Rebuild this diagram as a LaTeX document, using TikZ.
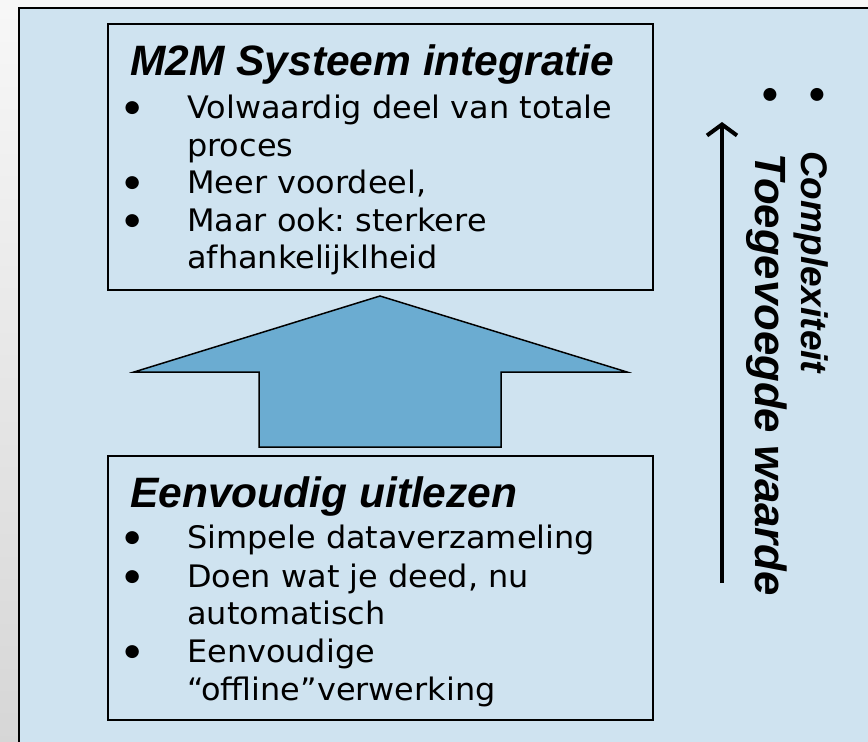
\documentclass[tikz,border=0pt]{standalone}
\usepackage{fontspec}
\setmainfont{DejaVu Sans}
\newfontfamily\bodyfont[FakeStretch=1.03]{DejaVu Sans}
\newfontfamily\arialfont{Liberation Sans}
\usetikzlibrary{arrows.meta}
\definecolor{panelblue}{RGB}{207,227,240}
\definecolor{arrowblue}{RGB}{107,172,209}
\frenchspacing
\newcommand{\bulitem}{\makebox[40pt][c]{\raisebox{6pt}{\fontsize{17}{17}\selectfont ●}}\hspace{35pt}}
\begin{document}
\begin{tikzpicture}[x=1pt,y=-1pt,
  box/.style={draw=black,line width=1.5pt,inner sep=0pt,anchor=north west},
  boxtitle/.style={anchor=base west,inner sep=0pt,font=\arialfont\bfseries\itshape\fontsize{42.5}{42.5}\selectfont},
  item/.style={anchor=base west,inner sep=0pt,font=\bodyfont\fontsize{31}{31}\selectfont},
  rbul/.style={anchor=center,inner sep=0pt,rotate=-90,font=\fontsize{17}{17}\selectfont},
  side/.style={anchor=base west,inner sep=0pt,rotate=-90,font=\arialfont\bfseries\itshape\fontsize{#1}{#1}\selectfont}]
\useasboundingbox (0,0) rectangle (868,742);
\clip (0,0) rectangle (868,742);
% background and panel
\shade[top color=black!3,bottom color=black!16] (0,0) rectangle (868,742);
\draw[line width=2pt,fill=panelblue] (19,8) rectangle (890,770);
% boxes
\node[box,minimum width=545pt,minimum height=266pt] (topbox) at (107,23) {};
\node[box,minimum width=545pt,minimum height=264pt] (botbox) at (107,455) {};
% big block arrow
\draw[line width=1.5pt,fill=arrowblue,line join=miter]
  (380,296) -- (627,372) -- (501,372) -- (501,447) -- (259,447) -- (259,372) -- (134,372) -- cycle;
% top box text
\node[boxtitle] (t1) at (130,75) {M2M Systeem integratie};
\node[item] (i11) at (112,118) {\bulitem Volwaardig deel van totale};
\node[item] (i12) at (187,156) {proces};
\node[item] (i13) at (112,193) {\bulitem Meer voordeel,};
\node[item] (i14) at (112,231) {\bulitem Maar ook: sterkere};
\node[item] (i15) at (187,268) {afhankelijklheid};
% bottom box text
\node[boxtitle] (t2) at (130,507) {Eenvoudig uitlezen};
\node[item] (i21) at (112,548) {\bulitem Simpele dataverzameling};
\node[item] (i22) at (112,587) {\bulitem Doen wat je deed, nu};
\node[item] (i23) at (187,624) {automatisch};
\node[item] (i24) at (112,662) {\bulitem Eenvoudige};
\node[item] (i25) at (187,700) {“offline”verwerking};
% side arrow and labels
\coordinate (abot) at (722,583);
\coordinate (atop) at (722,122);
\draw[line width=4pt,-{Straight Barb[length=11pt,width=30pt]}] (abot) -- (atop);
\node[rbul] (rb1) at (770,95) {●};
\node[rbul] (rb2) at (817,95) {●};
\node[side=43.7] (s1) at (755,153) {Toegevoegde waarde};
\node[side=37] (s2) at (801,151) {Complexiteit};
\end{tikzpicture}
\end{document}
